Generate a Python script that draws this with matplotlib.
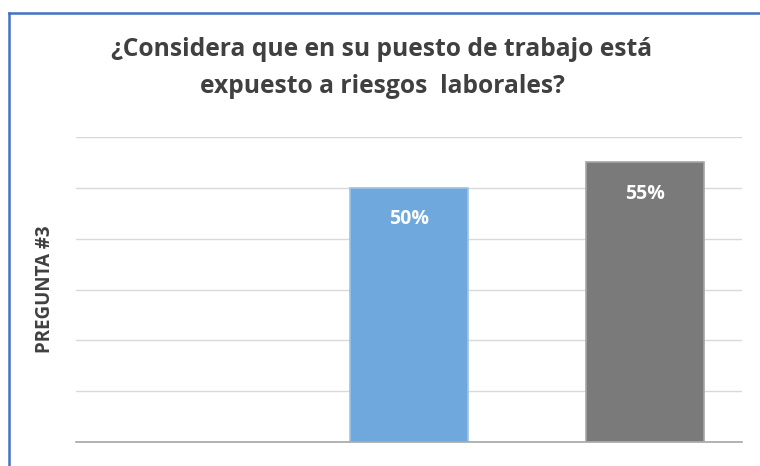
import matplotlib
matplotlib.use("Agg")
import matplotlib.pyplot as plt
from matplotlib.lines import Line2D
import numpy as np

categories = ["", "", ""]
values = [0, 50, 55]
labels = ["", "50%", "55%"]
colors = ["#6fa8dc", "#6fa8dc", "#7a7a7a"]
edges = ["#9dc3e6", "#9dc3e6", "#a6a6a6"]
title = "¿Considera que en su puesto de trabajo está\nexpuesto a riesgos  laborales?"
ylabel = "PREGUNTA #3"

W, H = 760, 466
fig = plt.figure(figsize=(W/100, H/100), dpi=100)
ax = fig.add_axes([76/W, (H-442)/H, (742-76)/W, (442-137)/H])

x = np.arange(len(categories))
for i, v in enumerate(values):
    if v > 0:
        ax.bar(x[i], v, width=0.5, color=colors[i], edgecolor=edges[i], linewidth=1.2, zorder=2)
        ax.text(x[i], v - 6.2, labels[i], ha="center", va="center", color="white",
                fontsize=14, fontweight="bold", family="Open Sans", zorder=3)

ax.set_xlim(-0.411, 2.411)
ax.set_ylim(0, 60)
ax.set_yticks(np.arange(0, 61, 10))
ax.set_xticks([])
ax.tick_params(axis="y", length=0, labelleft=False)
ax.grid(axis="y", color="#d9d9d9", linewidth=1, zorder=0)
ax.set_axisbelow(True)
for s in ["top", "right", "left"]:
    ax.spines[s].set_visible(False)
ax.spines["bottom"].set_color("#a6a6a6")
ax.spines["bottom"].set_linewidth(1.2)
ax.spines["bottom"].set_zorder(4)

fig.text(382/W, 1 - 68/H, title, ha="center", va="center", fontsize=17.7,
         fontweight="bold", color="#404040", family="Open Sans", linespacing=1.65)
fig.text(45/W, 1 - 289/H, ylabel, rotation=90, ha="center", va="center",
         fontsize=13.5, fontweight="bold", color="#404040", family="Open Sans")

fig.add_artist(Line2D([9/W, 9/W], [0, 1 - 12.5/H], color="#4472c4", linewidth=1.8))
fig.add_artist(Line2D([9/W, 1], [1 - 12.5/H, 1 - 12.5/H], color="#4472c4", linewidth=1.8))

fig.savefig("out.png", dpi=100)
